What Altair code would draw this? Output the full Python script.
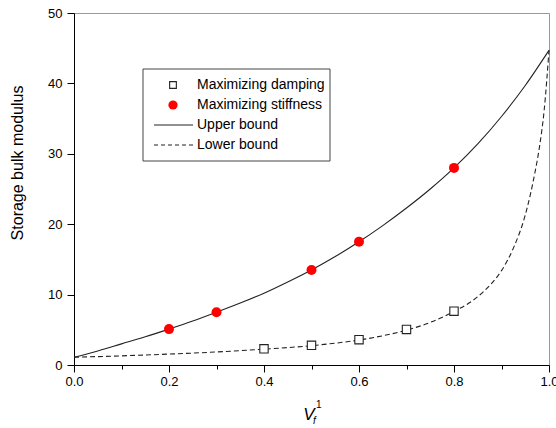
import altair as alt
import pandas as pd

# ---------------- data ----------------
upper_x = [0.0, 0.05, 0.1, 0.15, 0.2, 0.25, 0.3, 0.35, 0.4, 0.45, 0.5,
           0.55, 0.6, 0.65, 0.7, 0.75, 0.8, 0.85, 0.9, 0.95, 1.0]
upper_y = [1.1, 2.0, 3.0, 4.0, 5.1, 6.25, 7.5, 8.8, 10.2, 11.8, 13.5,
           15.4, 17.5, 19.8, 22.3, 25.0, 28.0, 31.4, 35.3, 39.7, 44.7]

lower_x = [0.0, 0.1, 0.2, 0.3, 0.4, 0.5, 0.6, 0.65, 0.7, 0.75, 0.8,
           0.85, 0.875, 0.9, 0.925, 0.95, 0.96, 0.97, 0.98, 0.99, 1.0]
lower_y = [1.1, 1.3, 1.55, 1.85, 2.25, 2.75, 3.55, 4.15, 4.95, 6.05, 7.6,
           9.7, 11.3, 13.4, 16.6, 21.3, 24.0, 27.2, 31.0, 36.3, 44.7]

damping_x = [0.4, 0.5, 0.6, 0.7, 0.8]
damping_y = [2.3, 2.8, 3.6, 5.05, 7.65]

stiffness_x = [0.2, 0.3, 0.5, 0.6, 0.8]
stiffness_y = [5.1, 7.5, 13.5, 17.5, 28.0]

x_ticks = [0.0, 0.1, 0.2, 0.3, 0.4, 0.5, 0.6, 0.7, 0.8, 0.9, 1.0]
y_ticks = [0, 5, 10, 15, 20, 25, 30, 35, 40, 45, 50]

legend_labels = ["Maximizing damping", "Maximizing stiffness", "Upper bound", "Lower bound"]
y_title = "Storage bulk modulus"

# ---------------- chart ----------------
FONT = "Liberation Sans"
W, H = 475, 352
INK = "#222222"

upper_df = pd.DataFrame({"x": upper_x, "y": upper_y})
lower_df = pd.DataFrame({"x": lower_x, "y": lower_y})
damp_df = pd.DataFrame({"x": damping_x, "y": damping_y})
stiff_df = pd.DataFrame({"x": stiffness_x, "y": stiffness_y})
one = pd.DataFrame({"k": [0]})

xscale = alt.Scale(domain=[0, 1], nice=False, zero=False)
yscale = alt.Scale(domain=[0, 50], nice=False, zero=False)

x_axis = alt.Axis(
    values=x_ticks,
    labelExpr="round(datum.value*10) % 2 == 0 ? format(datum.value, '.1f') : ''",
    tickSize={"condition": {"test": "round(datum.value*10) % 2 == 0", "value": 7}, "value": 4},
    title=None, grid=False,
    domainColor="black", tickColor="black", domainWidth=1, tickWidth=1,
    labelFont=FONT, labelFontSize=13, labelColor="black", labelPadding=3,
    labelFlush=False, labelOverlap=False,
)
y_axis = alt.Axis(
    values=y_ticks,
    labelExpr="datum.value % 10 == 0 ? format(datum.value, 'd') : ''",
    tickSize={"condition": {"test": "datum.value % 10 == 0", "value": 7}, "value": 4},
    title=None, grid=False,
    domainColor="black", tickColor="black", domainWidth=1, tickWidth=1,
    labelFont=FONT, labelFontSize=13, labelColor="black", labelPadding=5,
    labelFlush=False, labelOverlap=False,
)

upper = alt.Chart(upper_df).mark_line(color=INK, strokeWidth=1.1, interpolate="monotone").encode(
    x=alt.X("x:Q", scale=xscale, axis=x_axis),
    y=alt.Y("y:Q", scale=yscale, axis=y_axis),
)
lower = alt.Chart(lower_df).mark_line(color=INK, strokeWidth=1.1, strokeDash=[5, 3],
                                      interpolate="monotone").encode(
    x=alt.X("x:Q", scale=xscale), y=alt.Y("y:Q", scale=yscale))
damp = alt.Chart(damp_df).mark_square(size=70, fill="white", stroke=INK, strokeWidth=1.1,
                                      opacity=1).encode(
    x=alt.X("x:Q", scale=xscale), y=alt.Y("y:Q", scale=yscale))
stiff = alt.Chart(stiff_df).mark_circle(size=100, color="#ff0000", opacity=1).encode(
    x=alt.X("x:Q", scale=xscale), y=alt.Y("y:Q", scale=yscale))

# y-axis title
t_y = alt.Chart(one).mark_text(text=y_title, font=FONT, fontSize=16, angle=270,
                               align="center", baseline="middle", color="black").encode(
    x=alt.value(-56), y=alt.value(150))

# x-axis title  V_f^1
t_v = alt.Chart(one).mark_text(text="V", font=FONT, fontSize=17, fontStyle="italic",
                               align="center", baseline="alphabetic", color="black").encode(
    x=alt.value(235), y=alt.value(407))
t_sup = alt.Chart(one).mark_text(text="1", font=FONT, fontSize=10, align="left",
                                 baseline="alphabetic", color="black").encode(
    x=alt.value(242), y=alt.value(395))
t_sub = alt.Chart(one).mark_text(text="f", font=FONT, fontSize=10, fontStyle="italic",
                                 align="left", baseline="alphabetic", color="black").encode(
    x=alt.value(239), y=alt.value(411))

# manual legend
box = alt.Chart(one).mark_rect(fill="white", stroke="#444444", strokeWidth=1).encode(
    x=alt.value(69), x2=alt.value(256), y=alt.value(56), y2=alt.value(148))
leg_sq = alt.Chart(one).mark_square(size=45, fill="white", stroke=INK, strokeWidth=1.1,
                                    opacity=1).encode(x=alt.value(99), y=alt.value(72))
leg_ci = alt.Chart(one).mark_circle(size=85, color="#ff0000", opacity=1).encode(
    x=alt.value(99), y=alt.value(92))
leg_l1 = alt.Chart(one).mark_rule(color=INK, strokeWidth=1.1).encode(
    x=alt.value(80), x2=alt.value(119), y=alt.value(112))
leg_l2 = alt.Chart(one).mark_rule(color=INK, strokeWidth=1.1, strokeDash=[4, 3]).encode(
    x=alt.value(80), x2=alt.value(119), y=alt.value(132))
leg_text = []
for i, lab in enumerate(legend_labels):
    leg_text.append(alt.Chart(one).mark_text(text=lab, font=FONT, fontSize=14, align="left",
                                             baseline="middle", color="black").encode(
        x=alt.value(123), y=alt.value(72 + 20 * i)))

chart = alt.layer(
    upper, lower, damp, stiff, t_y, t_v, t_sup, t_sub,
    box, leg_sq, leg_ci, leg_l1, leg_l2, *leg_text,
).properties(
    width=W, height=H,
    autosize=alt.AutoSizeParams(type="none"),
    padding={"left": 74, "top": 13, "right": 7, "bottom": 63},
    background="white",
).configure_view(stroke="#999999", strokeWidth=1)

chart.save("out.html", embed_options={"renderer": "svg", "actions": False})
